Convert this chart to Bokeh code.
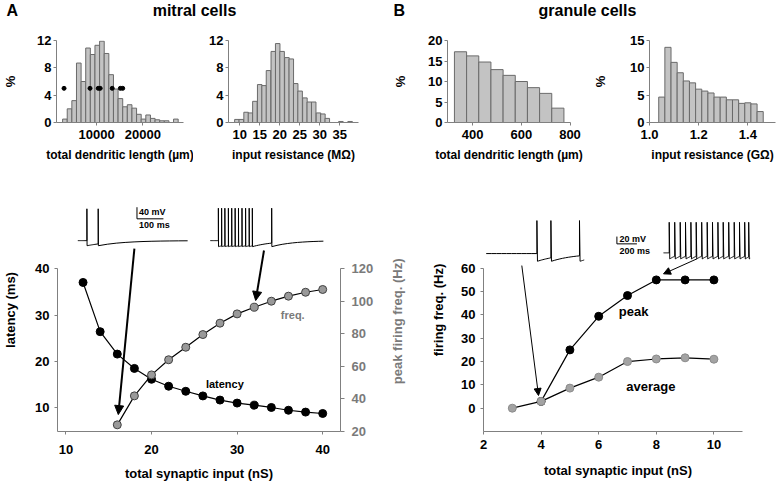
import math
from bokeh.plotting import figure
from bokeh.models import (Range1d, LinearAxis, FixedTicker, Label, Arrow, NormalHead,
                          PrintfTickFormatter)
from bokeh.layouts import column, row
from bokeh.embed import file_html
from bokeh.resources import INLINE

FONT = "Liberation Sans"
AX_GRAY = "#808080"

# ---------------- data ----------------
# A: mitral cells, total dendritic length histogram (um, %)
mitral_len_centers = [3150, 4150, 5150, 6150, 7150, 8150, 9150, 10150, 11150, 12150,
                      13150, 14150, 15150, 16150, 17150, 18150, 19150, 20150, 21150,
                      22150, 23150, 24150, 25150, 26150, 27150]
mitral_len_pct = [0.5, 2.0, 3.2, 8.7, 6.0, 10.9, 9.95, 11.3, 11.9, 10.1, 7.0, 4.9, 3.5,
                  2.3, 2.6, 2.1, 1.2, 0.5, 1.1, 0.6, 0.4, 0.25, 0.25, 0.0, 0.5]
mitral_len_width = 1000
mitral_dots_x = [2960, 8580, 10360, 10780, 13380, 15140, 15650]
mitral_dots_y = [5, 5, 5, 5, 5, 5, 5]

# A: mitral cells, input resistance histogram (MOhm, %)
mitral_rin_centers = [9.3, 10.4, 11.6, 12.7, 13.8, 15.0, 16.1, 17.2, 18.4, 19.5, 20.6,
                      21.8, 22.9, 24.0, 25.1, 26.3, 27.4, 28.5, 29.7, 30.8, 31.9, 35.3, 37.6]
mitral_rin_pct = [0.45, 0.45, 1.5, 1.4, 3.1, 5.55, 5.4, 7.6, 10.4, 11.55, 10.4, 9.5, 9.3,
                  5.7, 4.6, 3.6, 3.0, 3.0, 1.4, 1.25, 0.6, 0.15, 0.15]
mitral_rin_width = 1.13

# B: granule cells, total dendritic length histogram
granule_len_centers = [350, 400, 450, 500, 550, 600, 650, 700, 750]
granule_len_pct = [17.25, 16.25, 14.75, 12.9, 11.5, 10.0, 8.5, 7.1, 3.5]
granule_len_width = 50

# B: granule cells, input resistance histogram (GOhm)
granule_rin_centers = [1.05, 1.075, 1.1, 1.125, 1.15, 1.175, 1.2, 1.225, 1.25, 1.275,
                       1.3, 1.325, 1.35, 1.375, 1.4, 1.425, 1.45]
granule_rin_pct = [4.65, 13.75, 11.0, 9.1, 7.6, 7.25, 6.1, 5.75, 5.4, 4.65, 4.65, 4.15,
                   4.15, 3.5, 3.6, 3.4, 2.0]
granule_rin_width = 0.025

# A bottom: latency and peak firing frequency vs total synaptic input
lat_input = [12, 14, 16, 18, 20, 22, 24, 26, 28, 30, 32, 34, 36, 38, 40]
latency_ms = [37.05, 26.4, 21.55, 18.45, 16.1, 14.6, 13.5, 12.5, 11.6, 10.95, 10.5,
              10.0, 9.4, 9.0, 8.7]
freq_input = [16, 18, 20, 22, 24, 26, 28, 30, 32, 34, 36, 38, 40]
peak_freq_hz = [24.1, 41.9, 54.8, 64.1, 71.8, 79.6, 86.6, 92.3, 96.4, 100.1, 103.2,
                105.6, 107.3]

# B bottom: granule firing frequency
gc_peak_input = [4, 5, 6, 7, 8, 9, 10]
gc_peak_hz = [2.9, 25.0, 39.4, 48.3, 55.0, 55.0, 55.0]
gc_avg_input = [3, 4, 5, 6, 7, 8, 9, 10]
gc_avg_hz = [0.0, 2.9, 8.6, 13.3, 20.0, 21.1, 21.6, 21.0]

# inset spike traces (spike times placed in the panel's data units)
mc_trace1_spikes = [12.45, 13.77]
mc_trace2_spikes = [27.81, 28.19, 28.57, 28.98, 29.37, 29.77, 30.16, 30.57, 30.99,
                    31.41, 31.78, 34.04]
gc_trace1_spikes = [3.854, 4.340, 5.333]
gc_trace2_spikes = [8.448, 8.639, 8.830, 9.014, 9.201, 9.385, 9.576, 9.767, 9.951,
                    10.139, 10.323, 10.514, 10.705, 10.889, 11.069, 11.208]


# ---------------- helpers ----------------
def make_trace(x0, x1, spikes, rest, top, dip, tau, n=10, eps=0.02):
    xs, ys = [x0], [rest]
    t0, v0 = x0, rest
    stops = list(spikes) + [x1]
    for i, s in enumerate(stops):
        for k in range(1, n + 1):
            t = t0 + (s - t0) * k / n
            xs.append(t)
            ys.append(rest + (v0 - rest) * math.exp(-(t - t0) / tau))
        if i == len(stops) - 1:
            break
        xs += [s, s + eps]
        ys += [top, dip]
        t0, v0 = s + eps, dip
    return xs, ys


def make_fig(w, h, xr, yr, bl, br, bt, bb):
    p = figure(width=w, height=h, x_range=Range1d(*xr), y_range=Range1d(*yr),
               output_backend="svg", toolbar_location=None,
               min_border_left=bl, min_border_right=br,
               min_border_top=bt, min_border_bottom=bb)
    p.grid.visible = False
    p.outline_line_color = None
    p.background_fill_color = "white"
    p.border_fill_color = "white"
    return p


def style_axis(ax, label=None, tick_std=2, label_std=8, color="black", size="13px",
               label_size="13px"):
    ax.axis_line_color = AX_GRAY
    ax.major_tick_line_color = AX_GRAY
    ax.minor_tick_line_color = None
    ax.major_tick_in = 0
    ax.major_tick_out = 3
    ax.major_label_standoff = int(tick_std)
    ax.major_label_text_font = FONT
    ax.major_label_text_font_style = "bold"
    ax.major_label_text_font_size = size
    ax.major_label_text_color = color
    if label is not None:
        ax.axis_label = label
        ax.axis_label_standoff = int(label_std)
        ax.axis_label_text_font = FONT
        ax.axis_label_text_font_style = "bold"
        ax.axis_label_text_font_size = label_size
        ax.axis_label_text_color = color


def text(p, x, y, t, size="13px", color="black", align="center", **kw):
    p.add_layout(Label(x=x, y=y, text=t, text_font=FONT, text_font_style="bold",
                       text_font_size=size, text_color=color, text_align=align,
                       text_baseline="middle", **kw))


BAR_FILL = "#c3c3c3"
BAR_LINE = "#6a6a6a"

# ---------------- title strip ----------------
pt = make_fig(776, 24, (0, 776), (0, 24), 0, 0, 0, 0)
pt.axis.visible = False
for x, t, al in [(6, "A", "left"), (194, "mitral cells", "center"),
                 (393, "B", "left"), (587, "granule cells", "center")]:
    text(pt, x, 14.5, t, size="16px", align=al)

# ---------------- top histograms ----------------
H_TOP = 161
f1 = make_fig(193, H_TOP, (1330, 28800), (0, 12), 53, 10, 16, 63)
f1.vbar(x=mitral_len_centers, top=mitral_len_pct, width=mitral_len_width,
        fill_color=BAR_FILL, line_color=BAR_LINE, line_width=1)
f1.scatter(mitral_dots_x, mitral_dots_y, size=4, fill_color="black", line_color="black")
f1.xaxis.ticker = FixedTicker(ticks=[10000, 20000])
f1.yaxis.ticker = FixedTicker(ticks=[0, 4, 8, 12])
style_axis(f1.xaxis[0], "total dendritic length (\u00b5m)", tick_std=4, label_std=6,
           label_size="12px")
style_axis(f1.yaxis[0], "%", tick_std=2, label_std=16)

f2 = make_fig(197, H_TOP, (7.2, 39.7), (0, 12), 35, 32, 16, 63)
f2.vbar(x=mitral_rin_centers, top=mitral_rin_pct, width=mitral_rin_width,
        fill_color=BAR_FILL, line_color=BAR_LINE, line_width=1)
f2.xaxis.ticker = FixedTicker(ticks=[10, 15, 20, 25, 30, 35])
f2.yaxis.ticker = FixedTicker(ticks=[0, 4, 8, 12])
style_axis(f2.xaxis[0], "input resistance (M\u03a9)", tick_std=4, label_std=6,
           label_size="12px")
style_axis(f2.yaxis[0], None, tick_std=2)

f3 = make_fig(200, H_TOP, (296.5, 802), (0, 20), 49, 20, 16, 63)
f3.vbar(x=granule_len_centers, top=granule_len_pct, width=granule_len_width,
        fill_color=BAR_FILL, line_color=BAR_LINE, line_width=1)
f3.xaxis.ticker = FixedTicker(ticks=[400, 600, 800])
f3.yaxis.ticker = FixedTicker(ticks=[0, 5, 10, 15, 20])
style_axis(f3.xaxis[0], "total dendritic length (\u00b5m)", tick_std=4, label_std=6,
           label_size="12px")
style_axis(f3.yaxis[0], "%", tick_std=2, label_std=17)

f4 = make_fig(186, H_TOP, (1.0, 1.5124), (0, 15), 51, 1, 16, 63)
f4.vbar(x=granule_rin_centers, top=granule_rin_pct, width=granule_rin_width,
        fill_color=BAR_FILL, line_color=BAR_LINE, line_width=1)
f4.xaxis.ticker = FixedTicker(ticks=[1.0, 1.2, 1.4])
f4.xaxis.formatter = PrintfTickFormatter(format="%.1f")
f4.yaxis.ticker = FixedTicker(ticks=[0, 5, 10, 15])
style_axis(f4.xaxis[0], "input resistance (G\u03a9)", tick_std=4, label_std=6,
           label_size="12px")
style_axis(f4.yaxis[0], "%", tick_std=2, label_std=19)

# ---------------- A bottom: latency / frequency ----------------
H_BOT = 301
f5 = make_fig(376, H_BOT, (9.015, 42.08), (4.8, 57.38), 49, 35, 3, 55)
f5.extra_y_ranges = {"right": Range1d(20, 169.38)}
f5.line(lat_input, latency_ms, line_color="black", line_width=1.2)
f5.line(freq_input, peak_freq_hz, line_color="black", line_width=1.2, y_range_name="right")
f5.scatter(lat_input, latency_ms, size=8, fill_color="black", line_color="black")
f5.scatter(freq_input, peak_freq_hz, size=8, fill_color="#999999", line_color="#404040",
           y_range_name="right")
f5.xaxis.ticker = FixedTicker(ticks=[10, 20, 30, 40])
f5.yaxis.ticker = FixedTicker(ticks=[10, 20, 30, 40])
f5.yaxis.bounds = (4.8, 40)
style_axis(f5.xaxis[0], "total synaptic input (nS)", tick_std=10, label_std=9)
style_axis(f5.yaxis[0], "latency (ms)", tick_std=5, label_std=14)
rax = LinearAxis(y_range_name="right", ticker=FixedTicker(ticks=[20, 40, 60, 80, 100, 120]),
                 bounds=(20, 120))
style_axis(rax, None, tick_std=7, color="#7a7a7a")
rax.major_tick_out = 4
f5.add_layout(rax, "right")
text(f5, 28.57, 14.98, "latency", size="11px")
text(f5, 36.5, 30.1, "freq.", size="11px", color="#7a7a7a")

# traces, scale bar, arrows
xs, ys = make_trace(11.39, 24.22, mc_trace1_spikes, 46.1, 52.99, 45.0, 3.0)
f5.line(xs, ys, line_color="black", line_width=1)
xs, ys = make_trace(26.87, 40.08, mc_trace2_spikes, 46.1, 53.12, 44.8, 2.5)
f5.line(xs, ys, line_color="black", line_width=1)
f5.line([18.30, 18.30, 21.39], [53.33, 50.82, 50.82], line_color="black", line_width=1)
text(f5, 18.55, 52.25, "40 mV", size="9px", align="left")
text(f5, 18.55, 49.55, "100 ms", size="9px", align="left")
for xs0, ys0, xe, ye in [(18.0, 44.39, 16.12, 8.46), (33.14, 43.96, 32.17, 33.14)]:
    f5.add_layout(Arrow(end=NormalHead(size=9, fill_color="black", line_color="black"),
                        x_start=xs0, y_start=ys0, x_end=xe, y_end=ye,
                        line_color="black", line_width=2))

# strip holding the right-axis title (reads bottom-to-top as in the original)
fr = make_fig(49, H_BOT, (0, 49), (0, H_BOT), 0, 0, 0, 0)
fr.axis.visible = False
text(fr, 21, 136.5, "peak firing freq. (Hz)", color="#7a7a7a", angle=math.pi / 2)

# ---------------- B bottom: firing frequency ----------------
f6 = make_fig(351, H_BOT, (2, 11.34), (-10, 94.2), 58, 24, 3, 55)
f6.line(gc_peak_input, gc_peak_hz, line_color="black", line_width=1.2)
f6.line(gc_avg_input, gc_avg_hz, line_color="black", line_width=1.2)
f6.scatter(gc_peak_input, gc_peak_hz, size=8, fill_color="black", line_color="black")
f6.scatter(gc_avg_input, gc_avg_hz, size=8, fill_color="#a3a3a3", line_color="#8c8c8c")
f6.xaxis.ticker = FixedTicker(ticks=[2, 4, 6, 8, 10])
f6.xaxis.bounds = (2, 11)
f6.yaxis.ticker = FixedTicker(ticks=[0, 10, 20, 30, 40, 50, 60])
f6.yaxis.bounds = (-10, 60)
style_axis(f6.xaxis[0], "total synaptic input (nS)", tick_std=5, label_std=11)
style_axis(f6.yaxis[0], "firing freq. (Hz)", tick_std=5, label_std=12)
text(f6, 7.21, 41.44, "peak")
text(f6, 7.81, 9.3, "average")

xs, ys = make_trace(2.094, 5.497, gc_trace1_spikes, 66.3, 80.45, 63.0, 0.8)
f6.line(xs, ys, line_color="black", line_width=1)
xs, ys = make_trace(8.25, 11.26, gc_trace2_spikes, 66.6, 79.72, 64.0, 0.3)
f6.line(xs, ys, line_color="black", line_width=1)
f6.line([6.632, 6.632, 7.326], [73.59, 70.46, 70.46], line_color="black", line_width=1)
text(f6, 6.72, 72.6, "20 mV", size="9px", align="left")
text(f6, 6.72, 67.6, "200 ms", size="9px", align="left")
for xs0, ys0, xe, ye in [(3.33, 61.16, 3.91, 5.44), (9.41, 64.03, 8.25, 57.6)]:
    f6.add_layout(Arrow(end=NormalHead(size=7, fill_color="black", line_color="black"),
                        x_start=xs0, y_start=ys0, x_end=xe, y_end=ye,
                        line_color="black", line_width=1))

layout = column(pt, row(f1, f2, f3, f4), row(f5, fr, f6))
open("out.html", "w").write(file_html(layout, INLINE))
